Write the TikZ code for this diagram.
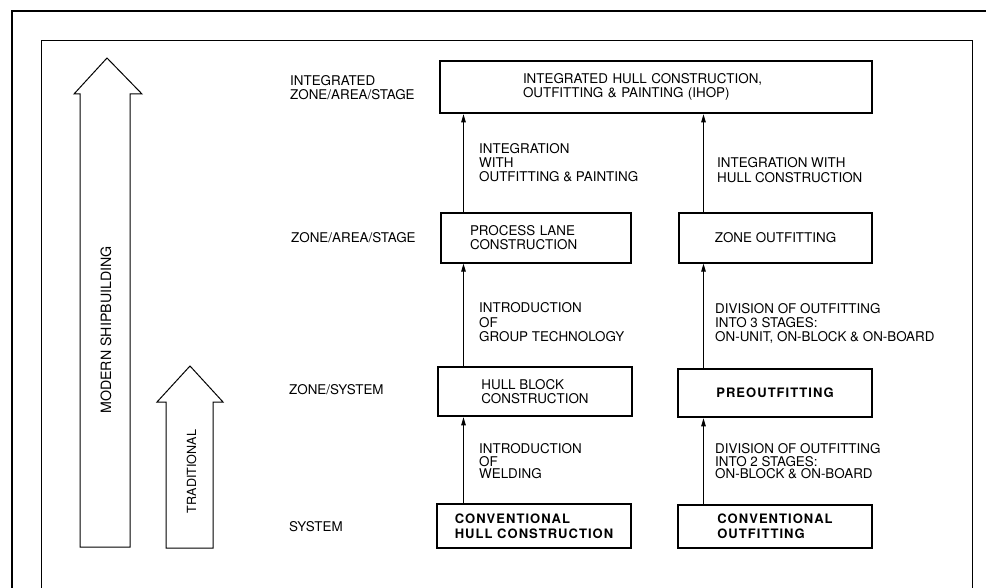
\documentclass[tikz,border=0pt]{standalone}
\usepackage{fontspec}
\setmainfont{TeX Gyre Heros}
\newfontfamily\spacedheros[LetterSpace=8]{TeX Gyre Heros}
\usetikzlibrary{arrows.meta}

\begin{document}
\begin{tikzpicture}[x=1pt,y=-1pt,
  lbl/.style={anchor=north west, inner sep=0pt, align=left,
    font=\fontsize{13.4}{14}\selectfont},
  lbltight/.style={lbl, font=\fontsize{13.4}{12.5}\selectfont},
  stage/.style={draw, line width=1.2pt, inner ysep=0pt, align=left,
    font=\fontsize{13.4}{14}\selectfont},
  keystage/.style={stage, line width=2.6pt},
  boldstage/.style={stage, font=\spacedheros\bfseries\fontsize{13}{15}\selectfont},
  flow/.style={-{Triangle[length=8pt,width=4.5pt]}, line width=0.9pt},
  bigarrow/.style={draw, line width=1pt, line join=miter},
  arrowtext/.style={rotate=90, inner sep=0pt}]

\useasboundingbox (0,0) rectangle (986,588);

% frames
\draw[line width=1.5pt] (12,588) -- (12,11) -- (986,11);
\draw[line width=0.9pt] (41,588) -- (41,40) -- (972,40) -- (972,588);

% development arrows
\draw[bigarrow] (80,547) -- (80,94) -- (74,94) -- (107,58) -- (142,94)
  -- (130,94) -- (130,547) -- cycle;
\node[arrowtext, font=\fontsize{14.2}{15}\selectfont] (modern) at (106,330)
  {MODERN SHIPBUILDING};
\draw[bigarrow] (166,548) -- (166,402) -- (157,402) -- (190,366) -- (223,402)
  -- (213,402) -- (213,548) -- cycle;
\node[arrowtext, font=\fontsize{12.6}{14}\selectfont] (trad) at (191.5,471.5)
  {TRADITIONAL};

% level names
\node[lbl] (lv4) at (290,75.5) {INTEGRATED\\ZONE/AREA/STAGE};
\node[lbl] (lv3) at (291,232.5) {ZONE/AREA/STAGE};
\node[lbl] (lv2) at (289,384.5) {ZONE/SYSTEM};
\node[lbl] (lv1) at (289,521.5) {SYSTEM};

% stages
\node[keystage, minimum width=432, minimum height=52, inner xsep=83,
  text width=266] (ihop) at (656,87)
  {INTEGRATED HULL CONSTRUCTION,\\OUTFITTING \& PAINTING (IHOP)};
\node[stage, minimum width=190, minimum height=50, inner xsep=29,
  text width=132] (lane) at (536,238) {PROCESS LANE\\CONSTRUCTION};
\node[stage, minimum width=193, minimum height=50, align=center] (zoneout)
  at (775.5,238) {ZONE OUTFITTING};
\node[keystage, minimum width=194, minimum height=49] (hullblock)
  at (535,391.5) {HULL BLOCK\\CONSTRUCTION};
\node[keystage, minimum width=194, minimum height=48, align=center,
  font=\spacedheros\bfseries\fontsize{13}{15}\selectfont] (preout)
  at (775,393) {PREOUTFITTING};
\node[boldstage, minimum width=194, minimum height=44] (convhull)
  at (534,526) {CONVENTIONAL\\HULL CONSTRUCTION};
\node[boldstage, minimum width=194, minimum height=43] (convout)
  at (775,526.5) {CONVENTIONAL\\OUTFITTING};

% development paths
\coordinate (lcol) at (463.5,0);
\coordinate (rcol) at (703.5,0);
\draw[flow] (convhull.north -| lcol) -- (hullblock.south -| lcol);
\draw[flow] (hullblock.north -| lcol) -- (lane.south -| lcol);
\draw[flow] (lane.north -| lcol) -- (ihop.south -| lcol);
\draw[flow] (convout.north -| rcol) -- (preout.south -| rcol);
\draw[flow] (preout.north -| rcol) -- (zoneout.south -| rcol);
\draw[flow] (zoneout.north -| rcol) -- (ihop.south -| rcol);

% path annotations
\node[lbl] (l3) at (479,143.5) {INTEGRATION\\WITH\\OUTFITTING \& PAINTING};
\node[lbl, font=\fontsize{13.4}{14.5}\selectfont] (r3) at (717,157.5)
  {INTEGRATION WITH\\HULL CONSTRUCTION};
\node[lbl, font=\fontsize{13.4}{14.5}\selectfont] (l2) at (479,302.5)
  {INTRODUCTION\\OF\\GROUP TECHNOLOGY};
\node[lbl] (r2) at (715,303.5)
  {DIVISION OF OUTFITTING\\INTO 3 STAGES:\\ON-UNIT, ON-BLOCK \& ON-BOARD};
\node[lbltight] (l1) at (479,443.5) {INTRODUCTION\\OF\\WELDING};
\node[lbltight] (r1) at (715,443.5)
  {DIVISION OF OUTFITTING\\INTO 2 STAGES:\\ON-BLOCK \& ON-BOARD};

\end{tikzpicture}
\end{document}
